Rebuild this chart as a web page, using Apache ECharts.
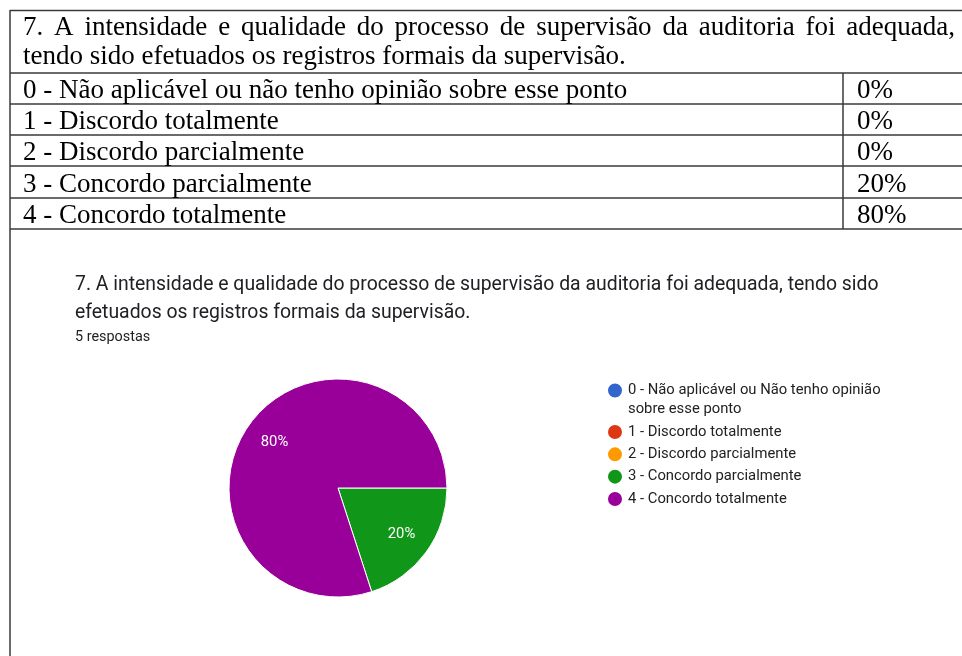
<!DOCTYPE html>
<html>
<head>
<meta charset="utf-8">
<title>Questão 7</title>
<script src="https://cdn.jsdelivr.net/npm/echarts@6/dist/echarts.min.js"></script>
<style>
  html, body { margin: 0; padding: 0; background: #fff; }
  #main { width: 962px; height: 656px; }
</style>
</head>
<body>
<div id="main"></div>
<script>
// dados da questão
const perguntaLinhas = [
  '7. A intensidade e qualidade do processo de supervisão da auditoria foi adequada,',
  'tendo sido efetuados os registros formais da supervisão.'
];
const opcoesTabela = [
  '0 - Não aplicável ou não tenho opinião sobre esse ponto',
  '1 - Discordo totalmente',
  '2 - Discordo parcialmente',
  '3 - Concordo parcialmente',
  '4 - Concordo totalmente'
];
const percentuais = ['0%', '0%', '0%', '20%', '80%'];
const opcoesLegenda = [
  '0 - Não aplicável ou Não tenho opinião\nsobre esse ponto',
  '1 - Discordo totalmente',
  '2 - Discordo parcialmente',
  '3 - Concordo parcialmente',
  '4 - Concordo totalmente'
];
const respostas = [0, 0, 0, 1, 4];
const cores = ['#3366cc', '#dc3912', '#ff9900', '#109618', '#990099'];
const tituloGrafico = '7. A intensidade e qualidade do processo de supervisão da auditoria foi adequada, tendo sido\nefetuados os registros formais da supervisão.';
const subtitulo = '5 respostas';

const fonteSerif = '27px "Liberation Serif", "Times New Roman", serif';
const corLinha = '#3a3a3a';

const chart = echarts.init(document.getElementById('main'));

function texto(t, x, y) {
  return {
    type: 'text', x: x, y: y, silent: true,
    style: {
      text: t, font: fonteSerif, fill: '#000',
      align: 'left', verticalAlign: 'middle',
      textAlign: 'left', textVerticalAlign: 'middle'
    }
  };
}

function linha(x1, y1, x2, y2) {
  return {
    type: 'line', silent: true,
    shape: { x1: x1, y1: y1, x2: x2, y2: y2 },
    style: { stroke: corLinha, lineWidth: 1.5 }
  };
}

// primeira linha do enunciado vem justificada
function justificar(t, x0, x1, y) {
  const ctx = document.createElement('canvas').getContext('2d');
  ctx.font = fonteSerif;
  const palavras = t.split(' ');
  const larguras = palavras.map(p => ctx.measureText(p).width);
  const soma = larguras.reduce((a, b) => a + b, 0);
  const espaco = (x1 - x0 - soma) / (palavras.length - 1);
  let x = x0;
  return palavras.map((p, i) => {
    const el = texto(p, x, y);
    x += larguras[i] + espaco;
    return el;
  });
}

const linhasY = [73, 104, 135, 166, 198, 229];
const elementos = [];
elementos.push(linha(10, 10.5, 962, 10.5));
elementos.push(linha(10, 10, 10, 656));
linhasY.forEach(y => elementos.push(linha(10, y, 962, y)));
elementos.push(linha(843, 73, 843, 229));

elementos.push(...justificar(perguntaLinhas[0], 23, 955, 28));
elementos.push(texto(perguntaLinhas[1], 23, 57));
opcoesTabela.forEach((op, i) => {
  const y = (linhasY[i] + linhasY[i + 1]) / 2 + 2.5;
  elementos.push(texto(op, 23, y));
  elementos.push(texto(percentuais[i], 857, y));
});

const dados = opcoesLegenda.map((n, i) => ({ name: n, value: respostas[i] }));

chart.setOption({
  animation: false,
  color: cores,
  title: {
    text: tituloGrafico,
    subtext: subtitulo,
    left: 75,
    top: 271,
    padding: 0,
    itemGap: 2,
    textStyle: {
      fontFamily: 'Roboto', fontSize: 19.4, fontWeight: 'normal',
      color: '#202124', lineHeight: 28
    },
    subtextStyle: {
      fontFamily: 'Roboto', fontSize: 14.4, color: '#202124', lineHeight: 16
    }
  },
  legend: {
    orient: 'vertical',
    left: 606,
    top: 361.5,
    padding: 0,
    icon: 'circle',
    itemWidth: 16,
    itemHeight: 16,
    itemGap: 3,
    selectedMode: false,
    textStyle: {
      fontFamily: 'Roboto', fontSize: 14.8, color: '#222', lineHeight: 19.3
    },
    // linha vazia no topo para o marcador ficar na altura da primeira linha
    formatter: n => n.indexOf('\n') >= 0 ? '\n' + n : n,
    data: opcoesLegenda
  },
  graphic: { elements: elementos },
  series: [
    {
      type: 'pie',
      center: [338, 488],
      radius: [0, 109],
      startAngle: 0,
      clockwise: true,
      silent: true,
      label: { show: false },
      labelLine: { show: false },
      itemStyle: { borderColor: '#fff', borderWidth: 1 },
      data: dados
    },
    {
      // só para posicionar os rótulos de percentual
      type: 'pie',
      center: [338, 488],
      radius: [42, 109],
      startAngle: 0,
      clockwise: true,
      silent: true,
      avoidLabelOverlap: false,
      itemStyle: { color: 'transparent', borderWidth: 0 },
      labelLine: { show: false },
      label: {
        show: true,
        position: 'inside',
        fontFamily: 'Roboto',
        fontSize: 14.8,
        color: '#fff',
        formatter: p => p.value === 0 ? '' : Math.round(p.percent) + '%'
      },
      data: dados
    }
  ]
});
</script>
</body>
</html>
